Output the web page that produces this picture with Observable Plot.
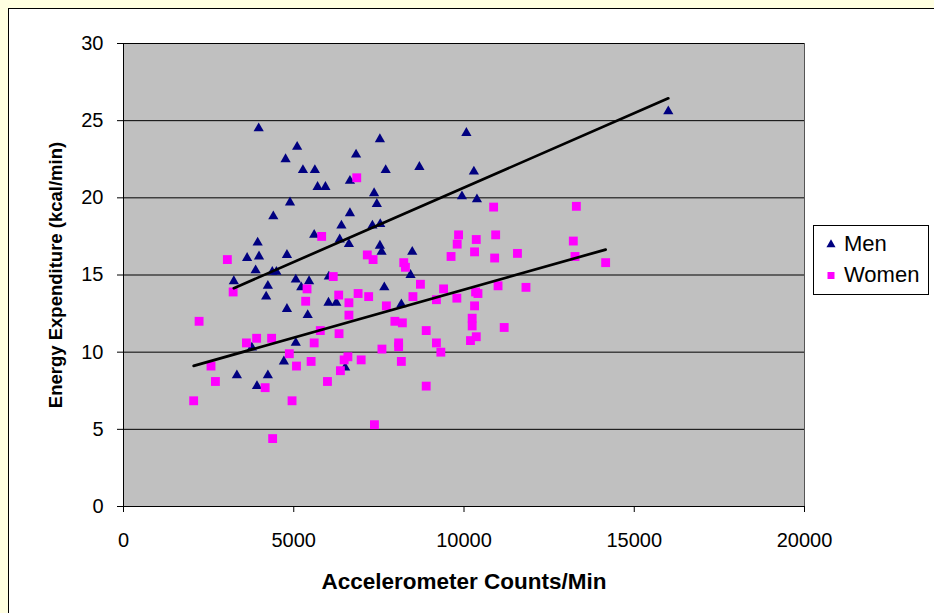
<!DOCTYPE html>
<html>
<head>
<meta charset="utf-8">
<script src="https://cdn.jsdelivr.net/npm/d3@7"></script>
<script src="https://cdn.jsdelivr.net/npm/@observablehq/plot@0.6"></script>
<style>
  html, body { margin: 0; padding: 0; }
  body {
    width: 934px; height: 613px; overflow: hidden; position: relative;
    background: #FFFFE1;
    font-family: "Liberation Sans", Arial, sans-serif;
  }
  #card {
    position: absolute; left: 8px; top: 8px; width: 940px; height: 620px;
    background: #fff; border: 1px solid #000;
  }
  #chart { position: absolute; left: 0; top: 0; }
  #legend {
    position: absolute; left: 813px; top: 225px; width: 116px; height: 70px;
    box-sizing: border-box; border: 1px solid #000; background: #fff;
    font-size: 22px; color: #000;
  }
  #legend .row { position: absolute; left: 0; height: 30px; display: flex; align-items: center; }
  #legend svg { margin-left: 12px; margin-right: 8px; }
</style>
</head>
<body>
<div id="card"></div>
<div id="chart"></div>
<div id="legend"></div>
<script>
// Accelerometer counts per minute and energy expenditure (kcal/min), men
const menCounts = [
  3970, 5100, 4760, 5270, 5620, 5700, 5930, 4890, 4400, 6400,
  5600, 6350, 3940, 3630, 3980, 4800, 3880, 4370, 4490, 3240,
  4240, 5060, 5450, 6030, 5220, 4190, 4800, 5410, 6020, 6250,
  3770, 5060, 4710, 3330, 4240, 3920, 6510, 7530, 10070, 6830,
  7700, 8690, 10290, 6650, 7360, 7440, 9940, 10380, 6650, 7310,
  7540, 6620, 7530, 7580, 8480, 8430, 7660, 8160, 16000
];
const menEnergy = [
  24.5, 23.3, 22.5, 21.8, 21.8, 20.7, 20.7, 19.7, 18.8, 18.2,
  17.6, 17.3, 17.1, 16.1, 16.2, 16.3, 15.3, 15.2, 15.2, 14.6,
  14.3, 14.7, 14.6, 14.9, 14.2, 13.6, 12.8, 12.4, 13.2, 13.2,
  10.3, 10.6, 9.4, 8.5, 8.5, 7.8, 9.0, 23.8, 24.2, 22.8,
  21.8, 22.0, 21.7, 21.1, 20.3, 19.6, 20.1, 19.9, 19.0, 18.2,
  18.3, 17.0, 16.9, 16.5, 16.5, 15.0, 14.2, 13.1, 25.6
];

// Same measures, women
const womenCounts = [
  5820, 3050, 6160, 3220, 5390, 5350, 6320, 6620, 2220, 6620,
  5780, 6330, 3610, 3910, 4350, 5600, 4870, 5080, 5510, 6480,
  6590, 6370, 2570, 2700, 4160, 5990, 2060, 4950, 4380, 6850,
  9840, 9800, 10360, 10310, 9620, 7160, 7330, 8230, 8280, 8720,
  9400, 10870, 10930, 10900, 11570, 6890, 7200, 8500, 9190, 9790,
  10340, 10410, 11000, 11820, 7720, 10310, 7970, 8190, 8890, 10240,
  10240, 11180, 10190, 10360, 8080, 8080, 9190, 9320, 7590, 6980,
  8160, 8890, 7370, 13300, 13210, 13260, 14160
];
const womenEnergy = [
  17.5, 16.0, 14.9, 13.9, 14.1, 13.3, 13.7, 13.2, 12.0, 12.4,
  11.4, 11.2, 10.6, 10.9, 10.9, 10.6, 9.9, 9.1, 9.4, 9.5,
  9.7, 8.8, 9.1, 8.1, 7.7, 8.1, 6.85, 6.85, 4.4, 21.3,
  17.6, 17.0, 17.3, 16.5, 16.2, 16.3, 16.0, 15.8, 15.5, 14.4,
  14.1, 19.4, 17.6, 16.1, 16.4, 13.8, 13.6, 13.6, 13.4, 13.5,
  13.9, 13.8, 14.3, 14.2, 13.0, 13.0, 12.0, 11.9, 11.4, 12.2,
  11.7, 11.6, 10.75, 11.0, 10.6, 10.35, 10.6, 10.0, 10.2, 9.5,
  9.4, 7.8, 5.3, 19.45, 17.2, 16.2, 15.8
];

const xTicks = [0, 5000, 10000, 15000, 20000];
const yTicks = [0, 5, 10, 15, 20, 25, 30];
const groups = ["Men", "Women"];
const colors = ["#000080", "#FF00FF"];
const symbols = ["triangle", "square"];

const men = menCounts.map((c, i) => ({counts: c, energy: menEnergy[i]}));
const women = womenCounts.map((c, i) => ({counts: c, energy: womenEnergy[i]}));

const font = "'Liberation Sans', Arial, sans-serif";

const chart = Plot.plot({
  width: 934,
  height: 613,
  marginLeft: 123,
  marginRight: 130,
  marginTop: 43,
  marginBottom: 107,
  style: {background: "transparent", fontFamily: font, fontSize: "20px", color: "#000", overflow: "visible"},
  x: {domain: [0, 20000]},
  y: {domain: [0, 30]},
  marks: [
    Plot.frame({fill: "#C0C0C0", stroke: "#555555"}),
    Plot.gridY(yTicks, {stroke: "#000", strokeOpacity: 1, strokeWidth: 1}),
    Plot.axisY(yTicks, {
      tickSize: 6, tickPadding: 14, stroke: "#000", strokeOpacity: 1,
      label: "Energy Expenditure (kcal/min)", labelAnchor: "center", labelArrow: "none",
      labelOffset: 75
    }),
    Plot.axisX(xTicks, {
      tickSize: 6, tickPadding: 20, stroke: "#000", strokeOpacity: 1,
      tickFormat: d => String(d),
      label: "Accelerometer Counts/Min", labelAnchor: "center", labelArrow: "none",
      labelOffset: 82
    }),
    Plot.ruleX([0], {stroke: "#000", strokeWidth: 1}),
    Plot.ruleY([0], {stroke: "#000", strokeWidth: 1}),
    Plot.dot(men, {x: "counts", y: "energy", symbol: symbols[0], fill: colors[0], r: 3.8}),
    Plot.dot(women, {x: "counts", y: "energy", symbol: symbols[1], fill: colors[1], r: 5.0}),
    Plot.linearRegressionY(men, {x: "counts", y: "energy", stroke: "#000", strokeWidth: 2.7, ci: 0}),
    Plot.linearRegressionY(women, {x: "counts", y: "energy", stroke: "#000", strokeWidth: 2.7, ci: 0})
  ]
});

// Axis titles are bold; the horizontal title is set a little larger
chart.querySelectorAll("[aria-label='y-axis label'] text").forEach(t => {
  t.setAttribute("font-weight", "bold");
  t.setAttribute("font-size", "18.5px");
});
chart.querySelectorAll("[aria-label='x-axis label'] text").forEach(t => {
  t.setAttribute("font-weight", "bold");
  t.setAttribute("font-size", "22.5px");
});
document.getElementById("chart").appendChild(chart);

// Legend: one row per group, with its marker drawn as a d3 symbol
const legend = d3.select("#legend");
groups.forEach((g, i) => {
  const row = legend.append("div").attr("class", "row").style("top", (3 + i * 31) + "px");
  const s = row.append("svg").attr("width", 10).attr("height", 10);
  const type = symbols[i] === "triangle" ? d3.symbolTriangle : d3.symbolSquare;
  s.append("path")
    .attr("transform", "translate(5,5.5)")
    .attr("d", d3.symbol(type, symbols[i] === "triangle" ? 36 : 49)())
    .attr("fill", colors[i]);
  row.append("span").text(g);
});
</script>
</body>
</html>
